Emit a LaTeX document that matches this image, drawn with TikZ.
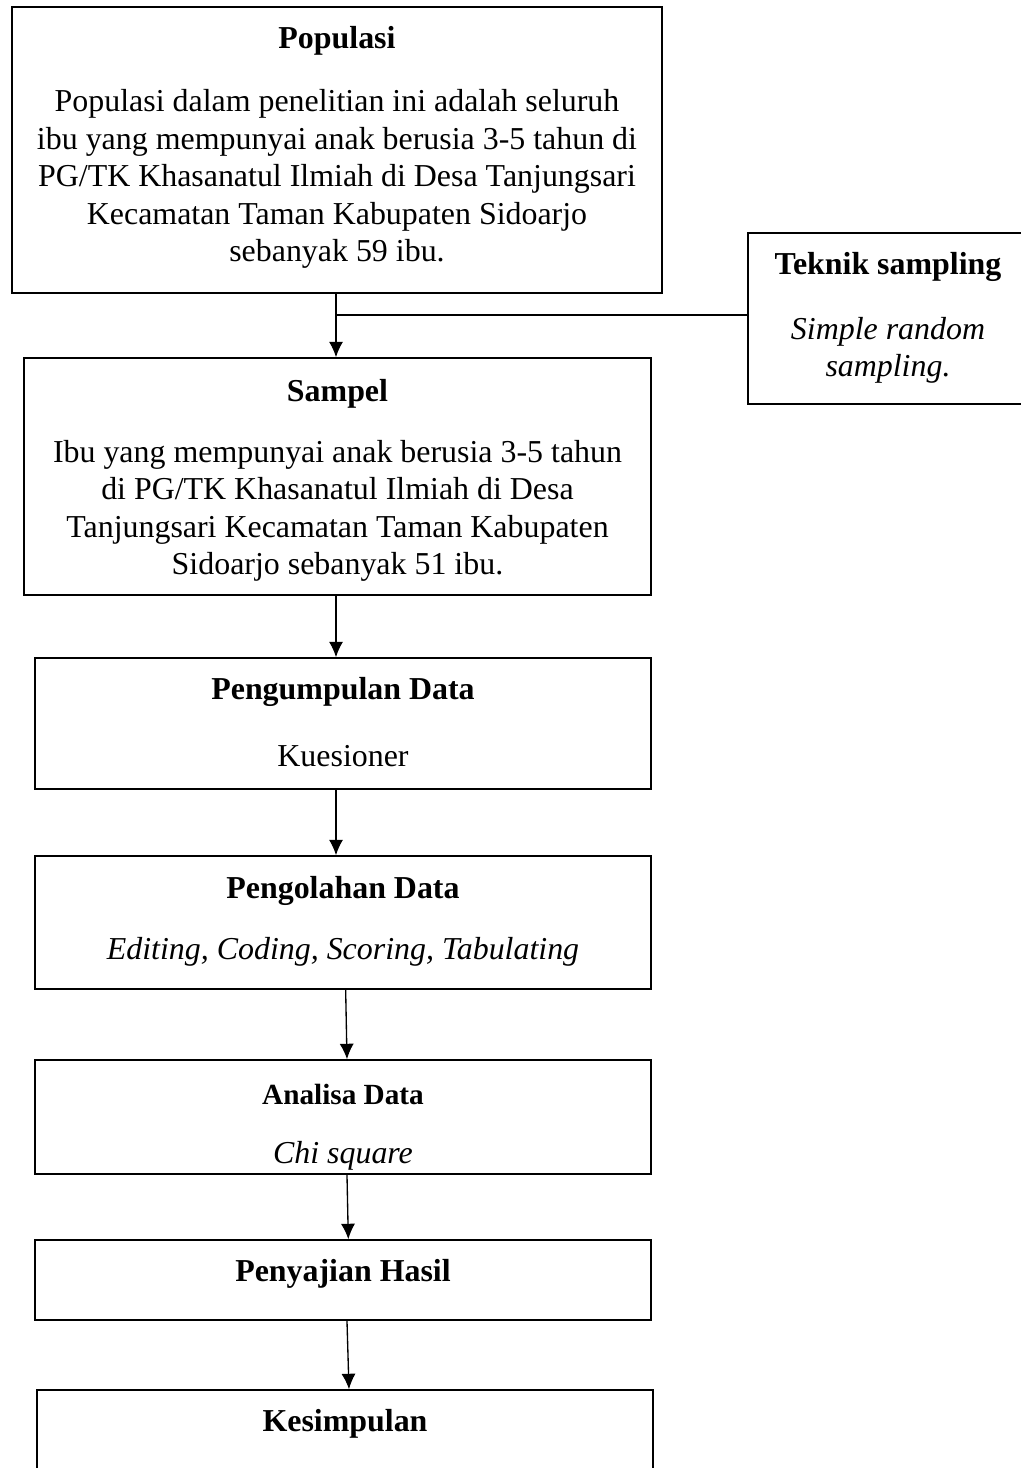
\documentclass[tikz,border=0pt]{standalone}
\usepackage{fontspec}
\setmainfont{Liberation Serif}
\usetikzlibrary{arrows.meta,fit}

\begin{document}
\begin{tikzpicture}[x=0.376pt, y=-0.376pt, >={Latex[length=5.8pt,width=5.3pt]},
	kotak/.style={draw, line width=0.6pt, inner sep=0pt},
	judul/.style={font=\fontsize{12}{14.1}\selectfont\bfseries, inner sep=0pt, yshift=-1.5pt},
	isi/.style={font=\fontsize{12}{14.1}\selectfont, align=center, inner sep=0pt, yshift=-1.5pt},
	panah/.style={->, line width=0.5pt}]
	% 0. batas gambar (ukuran piksel acuan)
	\useasboundingbox (0,0) rectangle (1021,1468);
	\clip (0,0) rectangle (1021,1468);
	
	% 1. kotak-kotak alur (sudut kiri atas dan kanan bawah)
	\node[kotak, fit={(12,7) (662,293)}] (pop) {};
	\node[kotak, fit={(748,233) (1028,404)}] (teknik) {};
	\node[kotak, fit={(24,358) (651,595)}] (sampel) {};
	\node[kotak, fit={(35,658) (651,789)}] (kumpul) {};
	\node[kotak, fit={(35,856) (651,989)}] (olah) {};
	\node[kotak, fit={(35,1060) (651,1174)}] (analisa) {};
	\node[kotak, fit={(35,1240) (651,1320)}] (saji) {};
	\node[kotak, fit={(37,1390) (653,1500)}] (simpul) {};
	
	% 2. isi teks tiap kotak
	\node[judul] (popJ) at (337,37) {Populasi};
	\node[isi] (popI) at (337,175) {Populasi dalam penelitian ini adalah seluruh\\
		ibu yang mempunyai anak berusia 3-5 tahun di\\
		PG/TK Khasanatul Ilmiah di Desa Tanjungsari\\
		Kecamatan Taman Kabupaten Sidoarjo\\
		sebanyak 59 ibu.};
	
	\node[judul] (teknikJ) at (888,263) {Teknik sampling};
	\node[isi, font=\fontsize{12}{14.1}\selectfont\itshape] (teknikI) at (888,346.5) {Simple random\\ sampling.};
	
	\node[judul] (sampelJ) at (337.5,390) {Sampel};
	\node[isi] (sampelI) at (337.5,507) {Ibu yang mempunyai anak berusia 3-5 tahun\\
		di PG/TK Khasanatul Ilmiah di Desa\\
		Tanjungsari Kecamatan Taman Kabupaten\\
		Sidoarjo sebanyak 51 ibu.};
	
	\node[judul] (kumpulJ) at (343,688) {Pengumpulan Data};
	\node[isi] (kumpulI) at (343,752) {Kuesioner};
	
	\node[judul] (olahJ) at (343,887) {Pengolahan Data};
	\node[isi, font=\fontsize{12}{14.1}\selectfont\itshape] (olahI) at (343,948) {Editing, Coding, Scoring, Tabulating};
	
	\node[judul, font=\fontsize{11}{13}\selectfont\bfseries] (analisaJ) at (343,1090) {Analisa Data};
	\node[isi, font=\fontsize{12}{14.1}\selectfont\itshape] (analisaI) at (343,1152) {Chi square};
	
	\node[judul] (sajiJ) at (343,1270) {Penyajian Hasil};
	\node[judul] (simpulJ) at (345,1420) {Kesimpulan};
	
	% 3. panah penghubung
	\coordinate (cabang) at (336,315);
	\draw[panah] (pop.south -| cabang) -- (sampel.north -| cabang);
	\draw[line width=0.5pt] (cabang) -- (cabang -| teknik.west);
	\draw[panah] (sampel.south -| cabang) -- (kumpul.north -| cabang);
	\draw[panah] (kumpul.south -| cabang) -- (olah.north -| cabang);
	\draw[panah] ([xshift=1pt]olah.south) -- ([xshift=1.5pt]analisa.north);
	\draw[panah] ([xshift=1.5pt]analisa.south) -- ([xshift=2pt]saji.north);
	\draw[panah] ([xshift=1.5pt]saji.south) -- ([xshift=1.5pt]simpul.north);
	
\end{tikzpicture}
\end{document}
